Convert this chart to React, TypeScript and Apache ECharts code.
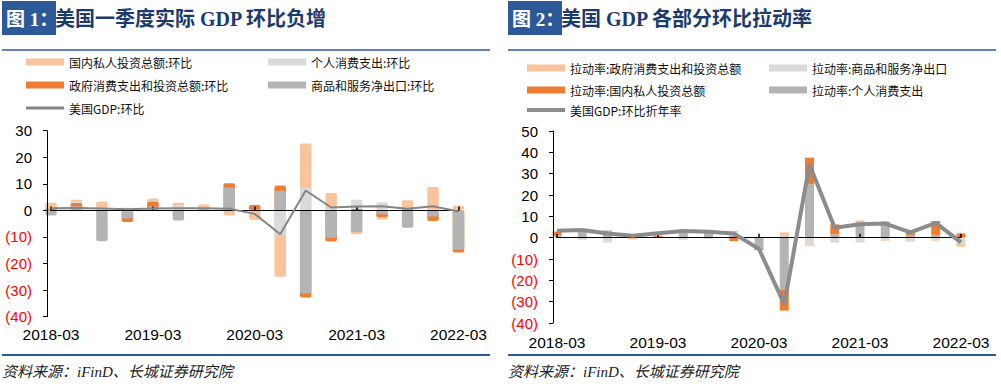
import React, { useEffect, useRef } from 'react';
import * as echarts from 'echarts';

const categories = [
  '2018-03', '2018-06', '2018-09', '2018-12',
  '2019-03', '2019-06', '2019-09', '2019-12',
  '2020-03', '2020-06', '2020-09', '2020-12',
  '2021-03', '2021-06', '2021-09', '2021-12',
  '2022-03',
];

// Chart 1: 环比 (overlapping bars)
const c1PrivInv = [2.9, 4.0, 3.4, 1.0, 4.5, 2.9, 2.2, -1.9, -3.5, -25.0, 25.2, 6.6, -9.0, -3.4, 3.8, 8.8, 1.8];
const c1Consump = [0.3, 3.4, 0.5, 0.3, 3.7, 2.0, 0.8, 9.8, 1.0, -9.3, 8.5, 1.0, 4.0, 3.1, 0.5, 0.5, 0.5];
const c1Gov = [0.5, 2.8, -0.4, -4.4, 3.3, -0.5, 0.3, 10.2, 2.0, 9.4, -32.8, -11.7, 0.5, -2.5, 0.4, -4.0, -15.8];
const c1NetExp = [-1.9, 1.6, -11.6, -3.0, 1.5, -3.8, 0.2, 8.6, 0.3, 7.4, -31.3, -10.3, -8.1, -1.5, -6.5, -2.3, -14.8];
const c1GDP = [0.8, 0.9, 0.7, 0.4, 0.7, 0.8, 0.8, 0.6, -1.3, -9.0, 7.5, 1.1, 1.5, 1.6, 0.6, 1.6, -0.4];

// Chart 2: 拉动率 (stacked bars)
const c2Consump = [1.2, 2.6, 2.5, 1.2, 0.3, 3.0, 2.2, 1.1, -5.0, -24.5, 25.0, 1.6, 7.2, 7.6, 1.3, 1.3, 0.2];
const c2PrivInv = [1.6, 0.2, 0.5, -0.4, 0.6, 0.2, 0.2, -1.6, -0.8, -9.7, 12.5, 4.6, -0.3, -0.2, 1.2, 6.5, 1.8];
const c2NetExp = [-0.2, -1.0, -2.3, 0.2, 0.6, -1.0, -0.6, 1.5, 0.1, 0.8, -3.2, -1.5, -2.0, -0.7, -1.7, -0.9, -3.0];
const c2Gov = [0.4, 0.4, 0.6, -0.4, 0.4, 0.5, 0.3, 0.5, 0.2, 1.7, -0.6, -0.7, 0.9, -0.5, -0.2, -0.5, -1.2];
const c2GDP = [3.2, 3.6, 2.0, 0.9, 2.1, 3.1, 2.8, 2.0, -5.3, -31.2, 34.2, 4.6, 6.3, 6.6, 2.5, 6.9, -2.2];

const y1Range = [-40, 30];
const y2Range = [-40, 50];

const N1 = {
  privInv: '国内私人投资总额:环比',
  consump: '个人消费支出:环比',
  gov: '政府消费支出和投资总额:环比',
  netExp: '商品和服务净出口:环比',
  gdp: '美国GDP:环比',
};
const N2 = {
  gov: '拉动率:政府消费支出和投资总额',
  netExp: '拉动率:商品和服务净出口',
  privInv: '拉动率:国内私人投资总额',
  consump: '拉动率:个人消费支出',
  gdp: '美国GDP:环比折年率',
};

const C = {
  peach: '#F8C49C',
  light: '#DADADA',
  orange: '#ED7D31',
  gray: '#B4B4B4',
  line1: '#858585',
  line2: '#8C8C8C',
  blue: '#2C5A98',
  navy: '#1B3A6E',
};

const SANS = '"Liberation Sans", Arial, "Noto Sans CJK SC", sans-serif';
const LEG_FONT = '"Noto Sans CJK SC", "Liberation Sans", sans-serif';
const SERIF = '"Liberation Serif", "Noto Sans CJK SC", serif';

function labelAxis(gridIndex: number, margin: number) {
  return {
    type: 'category',
    gridIndex,
    data: categories,
    boundaryGap: false,
    position: 'bottom',
    axisLine: { show: false, onZero: false },
    axisTick: { show: false },
    splitLine: { show: false },
    axisLabel: {
      interval: 3,
      margin,
      color: '#000',
      fontSize: 15.5,
      fontFamily: SANS,
    },
  };
}

function zeroAxis(gridIndex: number) {
  return {
    type: 'category',
    gridIndex,
    data: categories,
    boundaryGap: false,
    position: 'bottom',
    z: 5,
    axisLine: { show: true, onZero: true, lineStyle: { color: '#000', width: 1 } },
    axisTick: { show: true, inside: true, interval: 3, length: 4, lineStyle: { color: '#000', width: 1.5 } },
    axisLabel: { show: false },
    splitLine: { show: false },
  };
}

function valueAxis(gridIndex: number, range: number[]) {
  return {
    type: 'value',
    gridIndex,
    min: range[0],
    max: range[1],
    interval: 10,
    offset: 4,
    z: 5,
    axisLine: { show: true, lineStyle: { color: '#000', width: 1 } },
    axisTick: { show: true, length: 4, lineStyle: { color: '#000' } },
    splitLine: { show: false },
    axisLabel: {
      margin: 15,
      fontSize: 15,
      fontFamily: SANS,
      formatter: (v: number) => (v < 0 ? `(${-v})` : `${v}`),
      color: (v: any) => (parseFloat(v) < 0 ? '#FF0000' : '#000000'),
    },
  };
}

function legendItem(name: string, left: number, top: number, h: number) {
  return {
    data: [name],
    left,
    top,
    padding: 0,
    itemWidth: 38,
    itemHeight: h,
    icon: 'rect',
    selectedMode: false,
    textStyle: { fontSize: 12, color: '#111', fontFamily: LEG_FONT },
  };
}

function overlapBar(name: string, data: number[], color: string) {
  return {
    type: 'bar',
    name,
    data,
    xAxisIndex: 0,
    yAxisIndex: 0,
    barWidth: 11.5,
    barGap: '-100%',
    clip: false,
    itemStyle: { color, borderRadius: 2 },
  };
}

function stackBar(name: string, data: number[], color: string) {
  return {
    type: 'bar',
    name,
    data,
    xAxisIndex: 2,
    yAxisIndex: 1,
    stack: 'c2',
    barWidth: 9,
    clip: false,
    itemStyle: { color },
  };
}

function panelGraphics(ox: number, num: string, title: string) {
  return [
    { type: 'rect', shape: { x: ox + 2, y: 1, width: 54, height: 34 }, style: { fill: C.blue } },
    {
      type: 'text', x: ox + 6, y: 19,
      style: { text: `图 ${num}：`, fill: '#FFFFFF', font: `bold 19px ${SERIF}`, textVerticalAlign: 'middle', verticalAlign: 'middle' },
    },
    {
      type: 'text', x: ox + 55, y: 19,
      style: { text: title, fill: C.navy, font: `bold 20px ${SERIF}`, textVerticalAlign: 'middle', verticalAlign: 'middle' },
    },
    { type: 'line', shape: { x1: ox + 2, y1: 50, x2: ox + 490, y2: 50 }, style: { stroke: C.blue, lineWidth: 1.3 } },
    { type: 'line', shape: { x1: ox + 2, y1: 355, x2: ox + 490, y2: 355 }, style: { stroke: C.blue, lineWidth: 2.2 } },
    {
      type: 'text', x: ox + 2, y: 372,
      style: { text: '资料来源：iFinD、长城证券研究院', fill: '#222', font: `italic 15px ${SERIF}`, textVerticalAlign: 'middle', verticalAlign: 'middle' },
    },
  ];
}

const option: any = {
  animation: false,
  backgroundColor: '#FFFFFF',
  grid: [
    { left: 51, top: 130.7, width: 407.5, height: 186 },
    { left: 557, top: 131, width: 404, height: 192 },
  ],
  xAxis: [labelAxis(0, 10), zeroAxis(0), labelAxis(1, 12), zeroAxis(1)],
  yAxis: [valueAxis(0, y1Range), valueAxis(1, y2Range)],
  legend: [
    legendItem(N1.privInv, 26, 56, 7),
    legendItem(N1.consump, 268, 56, 7),
    legendItem(N1.gov, 26, 79, 7),
    legendItem(N1.netExp, 268, 79, 7),
    legendItem(N1.gdp, 26, 102, 3),
    legendItem(N2.gov, 527, 62, 7),
    legendItem(N2.netExp, 769, 62, 7),
    legendItem(N2.privInv, 527, 84, 7),
    legendItem(N2.consump, 769, 84, 7),
    legendItem(N2.gdp, 527, 104, 4),
  ],
  graphic: [
    ...panelGraphics(0, '1', '美国一季度实际 GDP 环比负增'),
    ...panelGraphics(506, '2', '美国 GDP 各部分环比拉动率'),
  ],
  series: [
    overlapBar(N1.privInv, c1PrivInv, C.peach),
    overlapBar(N1.consump, c1Consump, C.light),
    overlapBar(N1.gov, c1Gov, C.orange),
    overlapBar(N1.netExp, c1NetExp, C.gray),
    {
      type: 'line', name: N1.gdp, data: c1GDP, xAxisIndex: 0, yAxisIndex: 0,
      symbol: 'none', z: 10,
      lineStyle: { color: C.line1, width: 2 }, itemStyle: { color: C.line1 },
    },
    stackBar(N2.consump, c2Consump, C.gray),
    stackBar(N2.privInv, c2PrivInv, C.orange),
    stackBar(N2.netExp, c2NetExp, C.light),
    stackBar(N2.gov, c2Gov, C.peach),
    {
      type: 'line', name: N2.gdp, data: c2GDP, xAxisIndex: 2, yAxisIndex: 1,
      symbol: 'none', z: 10,
      lineStyle: { color: C.line2, width: 4 }, itemStyle: { color: C.line2 },
    },
  ],
};

export default function App() {
  const ref = useRef<HTMLDivElement>(null);
  useEffect(() => {
    if (!ref.current) return;
    const chart = echarts.init(ref.current, null, { renderer: 'svg' });
    chart.setOption(option);
    return () => chart.dispose();
  }, []);
  return (
    <div
      ref={ref}
      style={{ position: 'absolute', left: 0, top: 0, width: 1001, height: 384, background: '#fff' }}
    />
  );
}
